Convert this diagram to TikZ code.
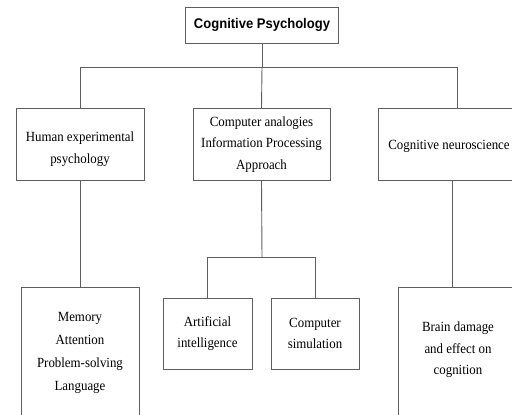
\documentclass[tikz,border=0pt]{standalone}
\usepackage{fontspec}
\setmainfont[FakeStretch=0.92]{Liberation Serif}
\newfontfamily\headfont[FakeStretch=0.93]{Liberation Sans}
\begin{document}
\begin{tikzpicture}[x=1pt,y=-1pt,
  linecol/.style={draw={rgb,255:red,95;green,95;blue,95}, line width=0.9pt},
  box/.style={linecol, rectangle, inner sep=2pt, align=center,
    font=\fontsize{14}{21.5}\selectfont},
  txt/.style={inner sep=0pt, align=center, font=\fontsize{14}{21.5}\selectfont},
  conn/.style={linecol}]
\useasboundingbox (0,0) rectangle (512,415);
\clip (0,0) rectangle (512,415);
\fill[white] (0,0) rectangle (512,415);
% top
\node[box, minimum width=153pt, minimum height=36pt,
  font=\headfont\bfseries\fontsize{14}{16}\selectfont] (top) at (262,25) {Cognitive Psychology};
% second level
\node[box, minimum width=128pt, minimum height=72pt] (h) at (80,144.5) {};
\node[txt] (ht) at (80,149) {Human experimental\\psychology};
\node[box, minimum width=137pt, minimum height=72pt] (c) at (261.5,144.5) {Computer analogies\\Information Processing\\Approach};
\node[box, minimum width=142pt, minimum height=72pt] (n) at (449,144.5) {};
\node[txt] (nt) at (449,146) {Cognitive neuroscience};
% third level
\node[box, minimum width=118pt, minimum height=132pt,
  font=\fontsize{14}{23}\selectfont] (m) at (80,353) {Memory\\Attention\\Problem-solving\\Language};
\node[box, minimum width=89pt, minimum height=71pt] (ai) at (207.5,333.5) {Artificial\\intelligence};
\node[box, minimum width=88pt, minimum height=71pt] (cs) at (315,333.5) {Computer\\simulation};
\node[box, minimum width=120pt, minimum height=140pt] (b) at (458,357) {};
\node[txt] (bt) at (458,350) {Brain damage\\and effect on\\cognition};
% connectors
\coordinate (bar) at (262,67);
\coordinate (barL) at (80,67);
\coordinate (barR) at (457,67);
\draw[conn] (top.south) -- (bar);
\draw[conn] (barL) -- (barR);
\draw[conn] (barL) -- (h.north);
\draw[conn] (bar) -- (c.north);
\draw[conn] (barR) -- (barR |- n.north);
\draw[conn] (h.south) -- (m.north);
\coordinate (sub) at (262,257);
\coordinate (subL) at (207.5,257);
\coordinate (subR) at (315,257);
\draw[conn] (c.south) -- (sub);
\draw[conn] (subL) -- (subR);
\draw[conn] (subL) -- (ai.north);
\draw[conn] (subR) -- (cs.north);
\coordinate (nb) at (452,0);
\draw[conn] (n.south -| nb) -- (b.north -| nb);
\end{tikzpicture}
\end{document}
